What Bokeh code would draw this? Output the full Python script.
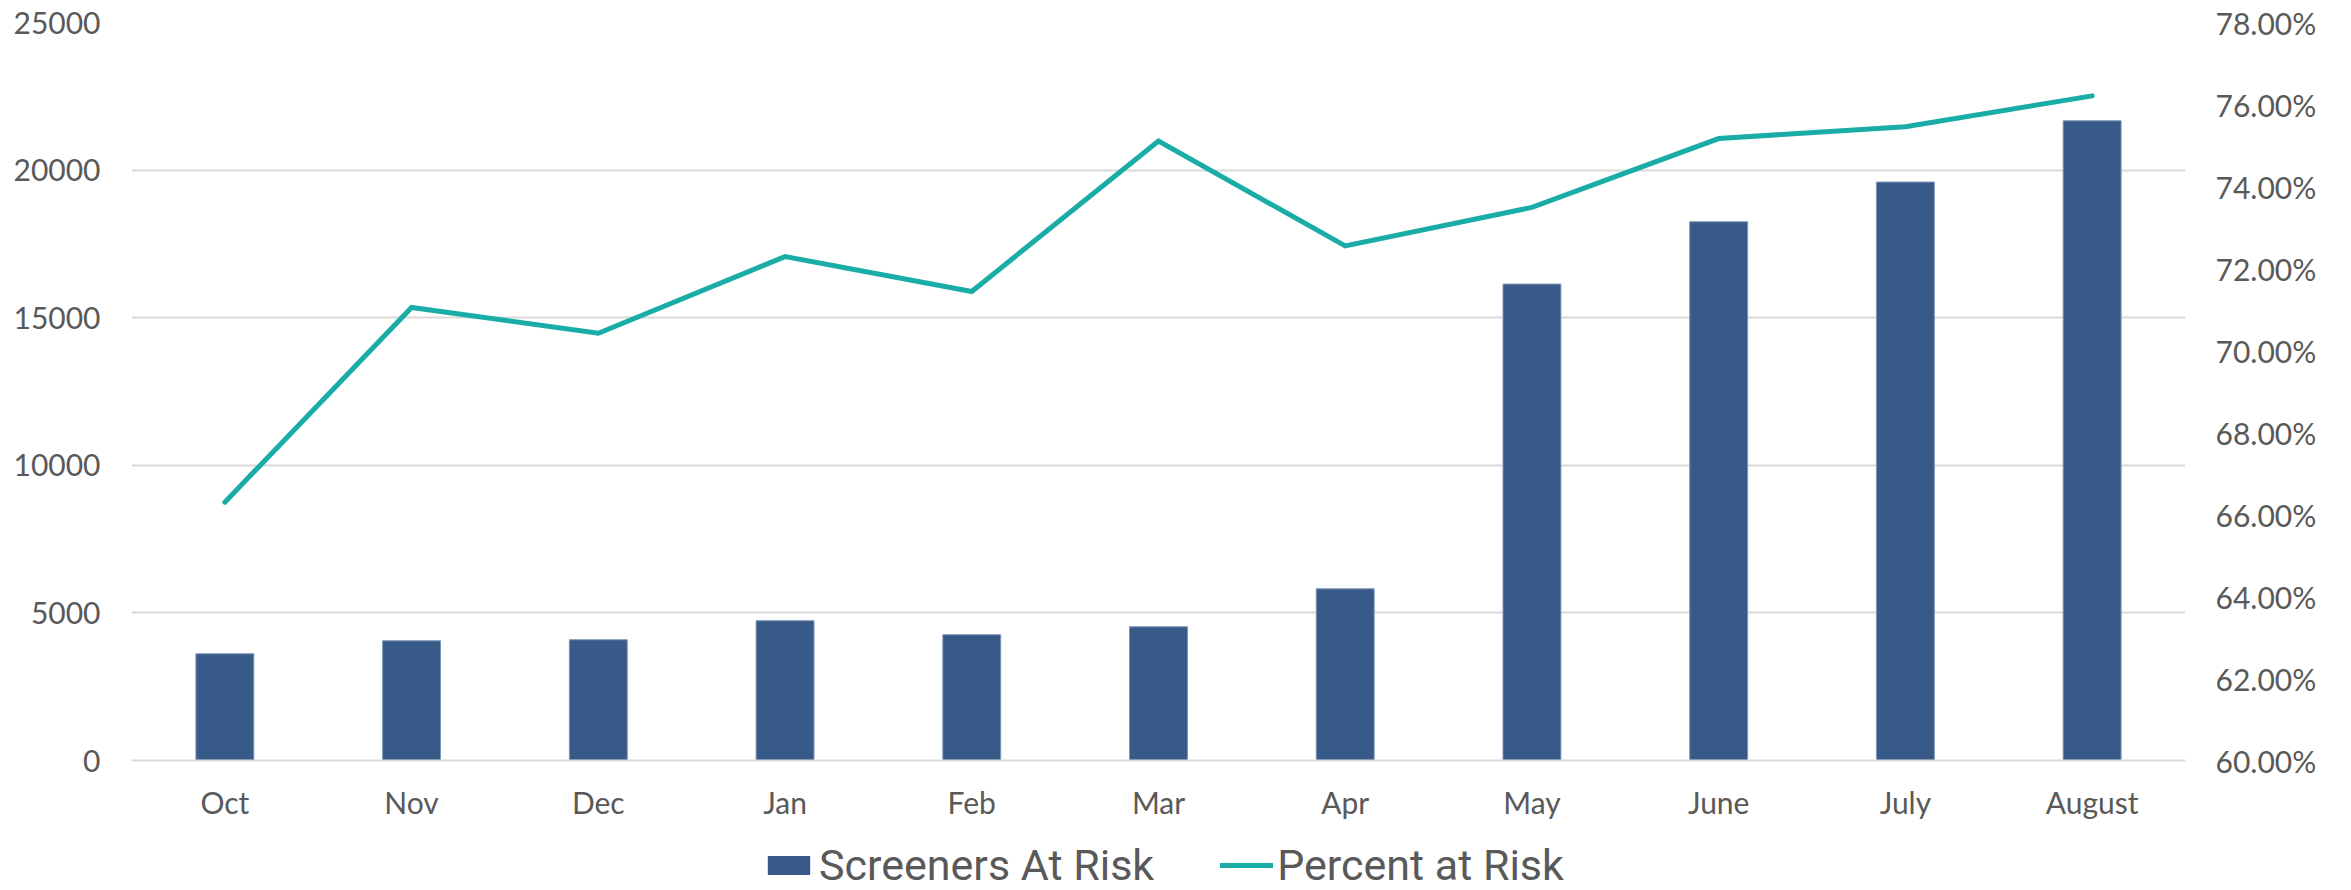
from bokeh.plotting import figure
from bokeh.layouts import column
from bokeh.models import (FactorRange, Range1d, LinearAxis, FixedTicker,
                          NumeralTickFormatter, Legend, LegendItem, ColumnDataSource)
from bokeh.embed import file_html
from bokeh.resources import INLINE

months = ["Oct", "Nov", "Dec", "Jan", "Feb", "Mar", "Apr", "May", "June", "July", "August"]
screeners_at_risk = [3615, 4055, 4090, 4735, 4260, 4530, 5815, 16140, 18250, 19595, 21670]
percent_at_risk = [0.6630, 0.7105, 0.7042, 0.7229, 0.7144, 0.7511, 0.7255, 0.7349, 0.7517, 0.7546, 0.7621]
left_ticks = [0, 5000, 10000, 15000, 20000, 25000]
right_ticks = [0.60, 0.62, 0.64, 0.66, 0.68, 0.70, 0.72, 0.74, 0.76, 0.78]
series_names = ["Screeners At Risk", "Percent at Risk"]

FONT = "Lato"
TXT = "#595959"
GRID = "#d9d9d9"
BAR = "#385A88"
LINE = "#1AADA8"

src = ColumnDataSource(dict(m=months, v=screeners_at_risk, p=percent_at_risk))

p = figure(width=2351, height=826, x_range=FactorRange(factors=months),
           y_range=Range1d(0, 25000), output_backend="svg", toolbar_location=None,
           min_border_left=131, min_border_right=166, min_border_top=22, min_border_bottom=66)
p.outline_line_color = None
p.background_fill_color = "white"
p.border_fill_color = "white"

p.extra_y_ranges = {"pct": Range1d(0.60, 0.78)}

p.vbar(x="m", top="v", width=0.31, source=src, fill_color=BAR,
       line_color="#7d93b6", line_width=1)
p.line(x="m", y="p", source=src, y_range_name="pct", line_color=LINE,
       line_width=5, line_cap="round", line_join="miter")


def style_axis(ax, standoff):
    ax.major_tick_line_color = None
    ax.minor_tick_line_color = None
    ax.major_tick_out = 0
    ax.major_tick_in = 0
    ax.minor_tick_out = 0
    ax.minor_tick_in = 0
    ax.major_label_text_font = FONT
    ax.major_label_text_font_size = "30px"
    ax.major_label_text_color = TXT
    ax.major_label_standoff = standoff


# left axis
ya = p.yaxis[0]
ya.ticker = FixedTicker(ticks=left_ticks)
ya.axis_line_color = None
style_axis(ya, 31)

# right axis
ra = LinearAxis(y_range_name="pct", ticker=FixedTicker(ticks=right_ticks),
                formatter=NumeralTickFormatter(format="0.00%"))
ra.axis_line_color = None
style_axis(ra, 30)
p.add_layout(ra, "right")

# x axis
xa = p.xaxis[0]
xa.axis_line_color = GRID
xa.axis_line_width = 2
style_axis(xa, 23)

p.xgrid.grid_line_color = None
p.ygrid.grid_line_color = GRID
p.ygrid.grid_line_width = 2
p.ygrid.ticker = FixedTicker(ticks=left_ticks)

# legend strip (separate figure so the legend sits below the axis labels)
lg = figure(width=2351, height=64, x_axis_type=None, y_axis_type=None,
            output_backend="svg", toolbar_location=None,
            min_border=0, x_range=Range1d(0, 1), y_range=Range1d(0, 1))
lg.outline_line_color = None
lg.grid.grid_line_color = None
proxy = ColumnDataSource(dict(x=[float("nan")], top=[float("nan")], y=[float("nan")]))
proxy_bar = lg.vbar(x="x", top="top", width=0.1, source=proxy, fill_color=BAR, line_color=None)
proxy_line = lg.line(x="x", y="y", source=proxy, line_color=LINE, line_width=5, line_cap="round")

legend = Legend(items=[LegendItem(label=series_names[0], renderers=[proxy_bar]),
                       LegendItem(label=series_names[1], renderers=[proxy_line])],
                orientation="horizontal", location=(631, 0),
                label_text_font="Roboto", label_text_font_size="43px",
                label_text_color=TXT, glyph_width=53, glyph_height=24,
                label_standoff=4, spacing=66, border_line_color=None,
                background_fill_alpha=0, margin=0, padding=0)
lg.add_layout(legend, "center")

layout = column(p, lg, spacing=0)
open("out.html", "w").write(file_html(layout, INLINE))
